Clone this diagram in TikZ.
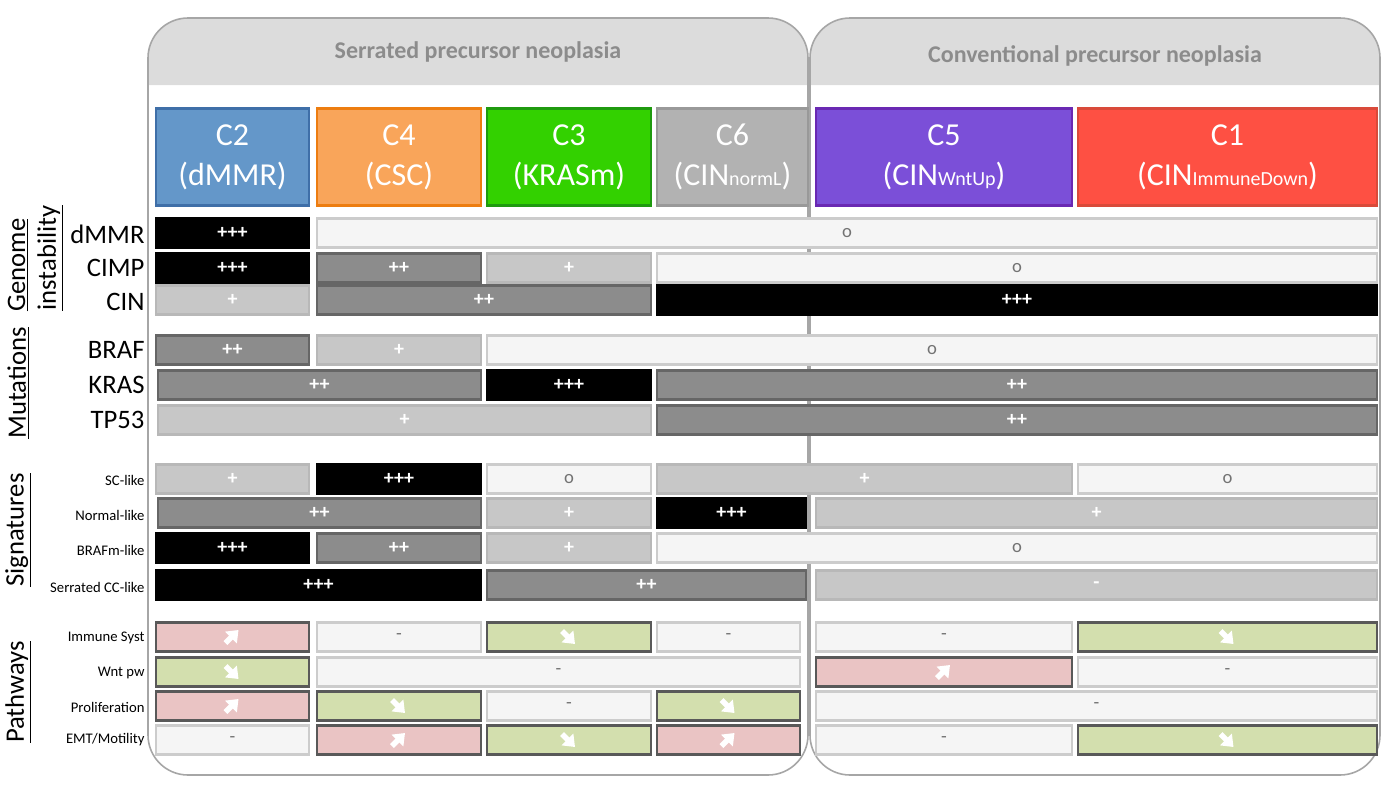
\documentclass[tikz,border=0pt]{standalone}
\usepackage{fontspec}
\setmainfont{Carlito}
\usetikzlibrary{arrows.meta}
\tikzset{every picture/.style={line width=0.75pt}}
\definecolor{bandgray}{HTML}{DCDCDC}
\definecolor{titlegray}{HTML}{8C8C8C}
\tikzset{
  cellbase/.style={rectangle,minimum height=22pt,inner sep=0pt,line width=2.2pt,font=\fontsize{15}{15}\selectfont\bfseries,text=white},
  blk/.style={cellbase,fill=black,draw=black},
  drk/.style={cellbase,fill=black!45,draw=black!60},
  lgt/.style={cellbase,fill=black!22,draw=black!28},
  pal/.style={cellbase,fill=black!4,draw=black!20,text=black!55,font=\fontsize{14}{14}\selectfont},
  redc/.style={cellbase,fill={rgb,255:red,234;green,196;blue,196},draw=black!65},
  grnc/.style={cellbase,fill={rgb,255:red,211;green,223;blue,174},draw=black!65},
  hdr/.style={rectangle,minimum height=73pt,inner sep=0pt,line width=2.2pt,text=white,align=center,font=\fontsize{24}{30}\selectfont},
  rowlab/.style={anchor=east,inner sep=0.75pt,font=\fontsize{20}{20}\selectfont},
  sublab/.style={anchor=east,inner sep=0.75pt,font=\fontsize{11}{11}\selectfont},
  grplab/.style={rotate=90,inner sep=0.75pt,font=\fontsize{20}{20}\selectfont},
  panel/.style={draw=black!35,line width=1.2pt,rounded corners=30pt},
  uparr/.style={white,line width=4pt,-{Triangle[length=8pt,width=12pt]}},
}
\newcommand\cell[6]{\pgfmathsetmacro\cw{(#3-#2)*0.75}\node[#5,minimum width=\cw pt] (#1) at ({(#2+#3)/2},#4) {#6};}
\newcommand\up[1]{\draw[uparr] ([shift={(-7,6)}]#1.center) -- ([shift={(6,-7)}]#1.center);}
\newcommand\dn[1]{\draw[uparr] ([shift={(-7,-6)}]#1.center) -- ([shift={(6,7)}]#1.center);}
\newcommand\sm[1]{{\fontsize{15}{15}\selectfont #1}}

\begin{document}
\begin{tikzpicture}[x=0.75pt,y=0.75pt,yscale=-1,xscale=1]
\useasboundingbox (0,0) rectangle (1393,800);

%Panels
\fill[bandgray] (148,85) [rounded corners=30pt] -- (148,18) -- (808,18) [sharp corners] -- (808,85) -- cycle;
\fill[bandgray] (810,85) [rounded corners=30pt] -- (810,18) -- (1380,18) [sharp corners] -- (1380,85) -- cycle;
\draw[panel] (148,18) rectangle (808,775);
\draw[panel] (810,18) rectangle (1380,775);
\node[font=\fontsize{18}{18}\selectfont\bfseries,text=titlegray] (serr) at (478,52) {Serrated precursor neoplasia};
\node[font=\fontsize{18}{18}\selectfont\bfseries,text=titlegray] (conv) at (1095,56) {Conventional precursor neoplasia};

%Headers
\node[hdr,fill={rgb,255:red,100;green,151;blue,201},draw={rgb,255:red,63;green,111;blue,168},minimum width=114.75pt] (hC2) at (232.5,157) {C2\\(dMMR)};
\node[hdr,fill={rgb,255:red,249;green,165;blue,90},draw={rgb,255:red,237;green,125;blue,16},minimum width=123pt] (hC4) at (399,157) {C4\\(CSC)};
\node[hdr,fill={rgb,255:red,51;green,209;blue,0},draw={rgb,255:red,31;green,154;blue,15},minimum width=123pt] (hC3) at (569,157) {C3\\(KRASm)};
\node[hdr,fill=black!30,draw=black!40,minimum width=113.25pt] (hC6) at (732.5,157) {C6\\(CIN\sm{normL})};
\node[hdr,fill={rgb,255:red,123;green,79;blue,216},draw={rgb,255:red,106;green,41;blue,179},minimum width=192pt] (hC5) at (944,157) {C5\\(CIN\sm{WntUp})};
\node[hdr,fill={rgb,255:red,254;green,80;blue,67},draw={rgb,255:red,217;green,74;blue,58},minimum width=224.25pt] (hC1) at (1227.5,157) {C1\\(CIN\sm{ImmuneDown})};

%Group labels
\node[grplab] (gGen) at (18,265) {\underline{Genome}};
\node[grplab] (gIns) at (50,258) {\underline{instability}};
\node[grplab] (gMut) at (18,383) {\underline{Mutations}};
\node[grplab] (gSig) at (18,530) {\underline{Signatures}};
\node[grplab] (gPat) at (18,692) {\underline{Pathways}};

%Row labels
\node[rowlab] (lDMMR) at (146,234) {dMMR};
\node[rowlab] (lCIMP) at (146,268) {CIMP};
\node[rowlab] (lCIN) at (146,302) {CIN};
\node[rowlab] (lBRAF) at (146,350) {BRAF};
\node[rowlab] (lKRAS) at (146,385) {KRAS};
\node[rowlab] (lTP53) at (146,420) {TP53};
\node[sublab] (lSC) at (146,480) {SC-like};
\node[sublab] (lNorm) at (146,515) {Normal-like};
\node[sublab] (lBRm) at (146,550) {BRAFm-like};
\node[sublab] (lSerr) at (146,587) {Serrated CC-like};
\node[sublab] (lImm) at (146,638) {Immune Syst};
\node[sublab] (lWnt) at (146,673) {Wnt pw};
\node[sublab] (lPro) at (146,707) {Proliferation};
\node[sublab] (lEMT) at (146,740) {EMT/Motility};

%Genome instability
\cell{a1}{156}{309}{233}{blk}{+++}
\cell{a2}{317}{1377}{233}{pal}{o}
\cell{b1}{156}{309}{268}{blk}{+++}
\cell{b2}{317}{481}{268}{drk}{++}
\cell{b3}{487}{651}{268}{lgt}{+}
\cell{b4}{657}{1377}{268}{pal}{o}
\cell{c1}{156}{309}{300}{lgt}{+}
\cell{c2}{317}{651}{300}{drk}{++}
\cell{c3}{657}{1377}{300}{blk}{+++}
%Mutations
\cell{d1}{156}{309}{350}{drk}{++}
\cell{d2}{317}{481}{350}{lgt}{+}
\cell{d3}{487}{1377}{350}{pal}{o}
\cell{e1}{158}{481}{385}{drk}{++}
\cell{e2}{487}{651}{385}{blk}{+++}
\cell{e3}{657}{1377}{385}{drk}{++}
\cell{f1}{158}{651}{420}{lgt}{+}
\cell{f2}{657}{1377}{420}{drk}{++}
%Signatures
\cell{g1}{156}{309}{479}{lgt}{+}
\cell{g2}{317}{481}{479}{blk}{+++}
\cell{g3}{487}{651}{479}{pal}{o}
\cell{g4}{657}{1072}{479}{lgt}{+}
\cell{g5}{1078}{1377}{479}{pal}{o}
\cell{h1}{158}{481}{513}{drk}{++}
\cell{h2}{487}{651}{513}{lgt}{+}
\cell{h3}{657}{806}{513}{blk}{+++}
\cell{h4}{816}{1377}{513}{lgt}{+}
\cell{i1}{156}{309}{548}{blk}{+++}
\cell{i2}{317}{481}{548}{drk}{++}
\cell{i3}{487}{651}{548}{lgt}{+}
\cell{i4}{657}{1377}{548}{pal}{o}
\cell{j1}{156}{481}{585}{blk}{+++}
\cell{j2}{487}{806}{585}{drk}{++}
\cell{j3}{816}{1377}{585}{lgt}{-}
%Pathways
\cell{k1}{156}{309}{637}{redc}{}
\cell{k2}{317}{481}{637}{pal}{-}
\cell{k3}{487}{651}{637}{grnc}{}
\cell{k4}{657}{800}{637}{pal}{-}
\cell{k5}{816}{1072}{637}{pal}{-}
\cell{k6}{1078}{1377}{637}{grnc}{}
\cell{l1}{156}{309}{672}{grnc}{}
\cell{l2}{317}{800}{672}{pal}{-}
\cell{l3}{816}{1072}{672}{redc}{}
\cell{l4}{1078}{1377}{672}{pal}{-}
\cell{m1}{156}{309}{706}{redc}{}
\cell{m2}{317}{481}{706}{grnc}{}
\cell{m3}{487}{651}{706}{pal}{-}
\cell{m4}{657}{800}{706}{grnc}{}
\cell{m5}{816}{1377}{706}{pal}{-}
\cell{n1}{156}{309}{740}{pal}{-}
\cell{n2}{317}{481}{740}{redc}{}
\cell{n3}{487}{651}{740}{grnc}{}
\cell{n4}{657}{800}{740}{redc}{}
\cell{n5}{816}{1072}{740}{pal}{-}
\cell{n6}{1078}{1377}{740}{grnc}{}

%Trend arrows
\up{k1} \dn{k3} \dn{k6}
\dn{l1} \up{l3}
\up{m1} \dn{m2} \dn{m4}
\up{n2} \dn{n3} \up{n4} \dn{n6}

\end{tikzpicture}
\end{document}
